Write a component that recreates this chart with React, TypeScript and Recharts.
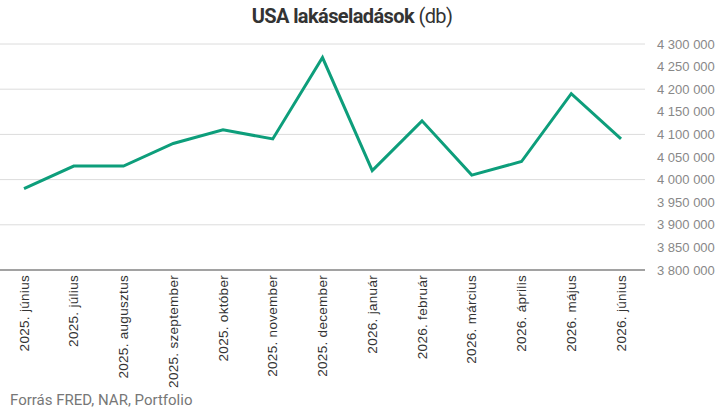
import React from 'react';
import { LineChart, Line, CartesianGrid, XAxis, YAxis } from 'recharts';

const months = [
  '2025. június', '2025. július', '2025. augusztus', '2025. szeptember', '2025. október',
  '2025. november', '2025. december', '2026. január', '2026. február', '2026. március',
  '2026. április', '2026. május', '2026. június',
];
const sales = [
  3980000, 4030000, 4030000, 4080000, 4110000, 4090000, 4270000,
  4020000, 4130000, 4010000, 4040000, 4190000, 4090000,
];
const yTicks = [
  3800000, 3850000, 3900000, 3950000, 4000000, 4050000,
  4100000, 4150000, 4200000, 4250000, 4300000,
];

const data = months.map((m, i) => ({ month: m, value: sales[i] }));

const fmt = (v: number) => v.toLocaleString('en-US').replace(/,/g, ' ');

const MonthTick = (props: any) => {
  const { x, y, payload } = props;
  const ty = y - 3;
  return (
    <text
      x={x}
      y={ty}
      dy="0.35em"
      transform={`rotate(-90, ${x}, ${ty})`}
      textAnchor="end"
      fill="#333"
      fontSize={13.5}
      fontFamily="'Liberation Sans', Arial, sans-serif"
      letterSpacing={0.3}
    >
      {payload.value}
    </text>
  );
};

const App: React.FC = () => {
  return (
    <div style={{ position: 'absolute', left: 0, top: 0, width: 718, height: 415, background: '#fff', fontFamily: 'Roboto, sans-serif' }}>
      <div style={{ position: 'absolute', top: 4, left: 0, width: 704, textAlign: 'center', fontSize: 20, color: '#333', letterSpacing: -0.6 }}>
        <span style={{ fontWeight: 700 }}>USA lakáseladások</span> <span>(db)</span>
      </div>
      <div style={{ position: 'absolute', top: 0, left: 0 }}>
        <LineChart width={718} height={390} data={data} margin={{ top: 44, right: 0, bottom: 0, left: 0 }} style={{ overflow: 'visible' }}>
          <CartesianGrid vertical={false} stroke="#dcdcdc" strokeWidth={1} />
          <XAxis
            dataKey="month"
            height={120}
            interval={0}
            padding={{ left: 24, right: 24 }}
            tick={<MonthTick />}
            tickLine={false}
            axisLine={{ stroke: '#888', strokeWidth: 1.5 }}
          />
          <YAxis
            orientation="right"
            width={73}
            domain={[3800000, 4300000]}
            ticks={yTicks}
            tickFormatter={fmt}
            axisLine={false}
            tickLine={false}
            tick={{ fill: '#888', fontSize: 13, fontFamily: "'Liberation Sans', Arial, sans-serif", textAnchor: 'start' }}
            tickMargin={0}
            dx={6}
          />
          <Line
            type="linear"
            dataKey="value"
            stroke="#0d9e7b"
            strokeWidth={3}
            dot={false}
            isAnimationActive={false}
          />
        </LineChart>
      </div>
      <div style={{ position: 'absolute', left: 10, top: 391, fontSize: 15, color: '#777' }}>
        Forrás FRED, NAR, Portfolio
      </div>
    </div>
  );
};

export default App;
